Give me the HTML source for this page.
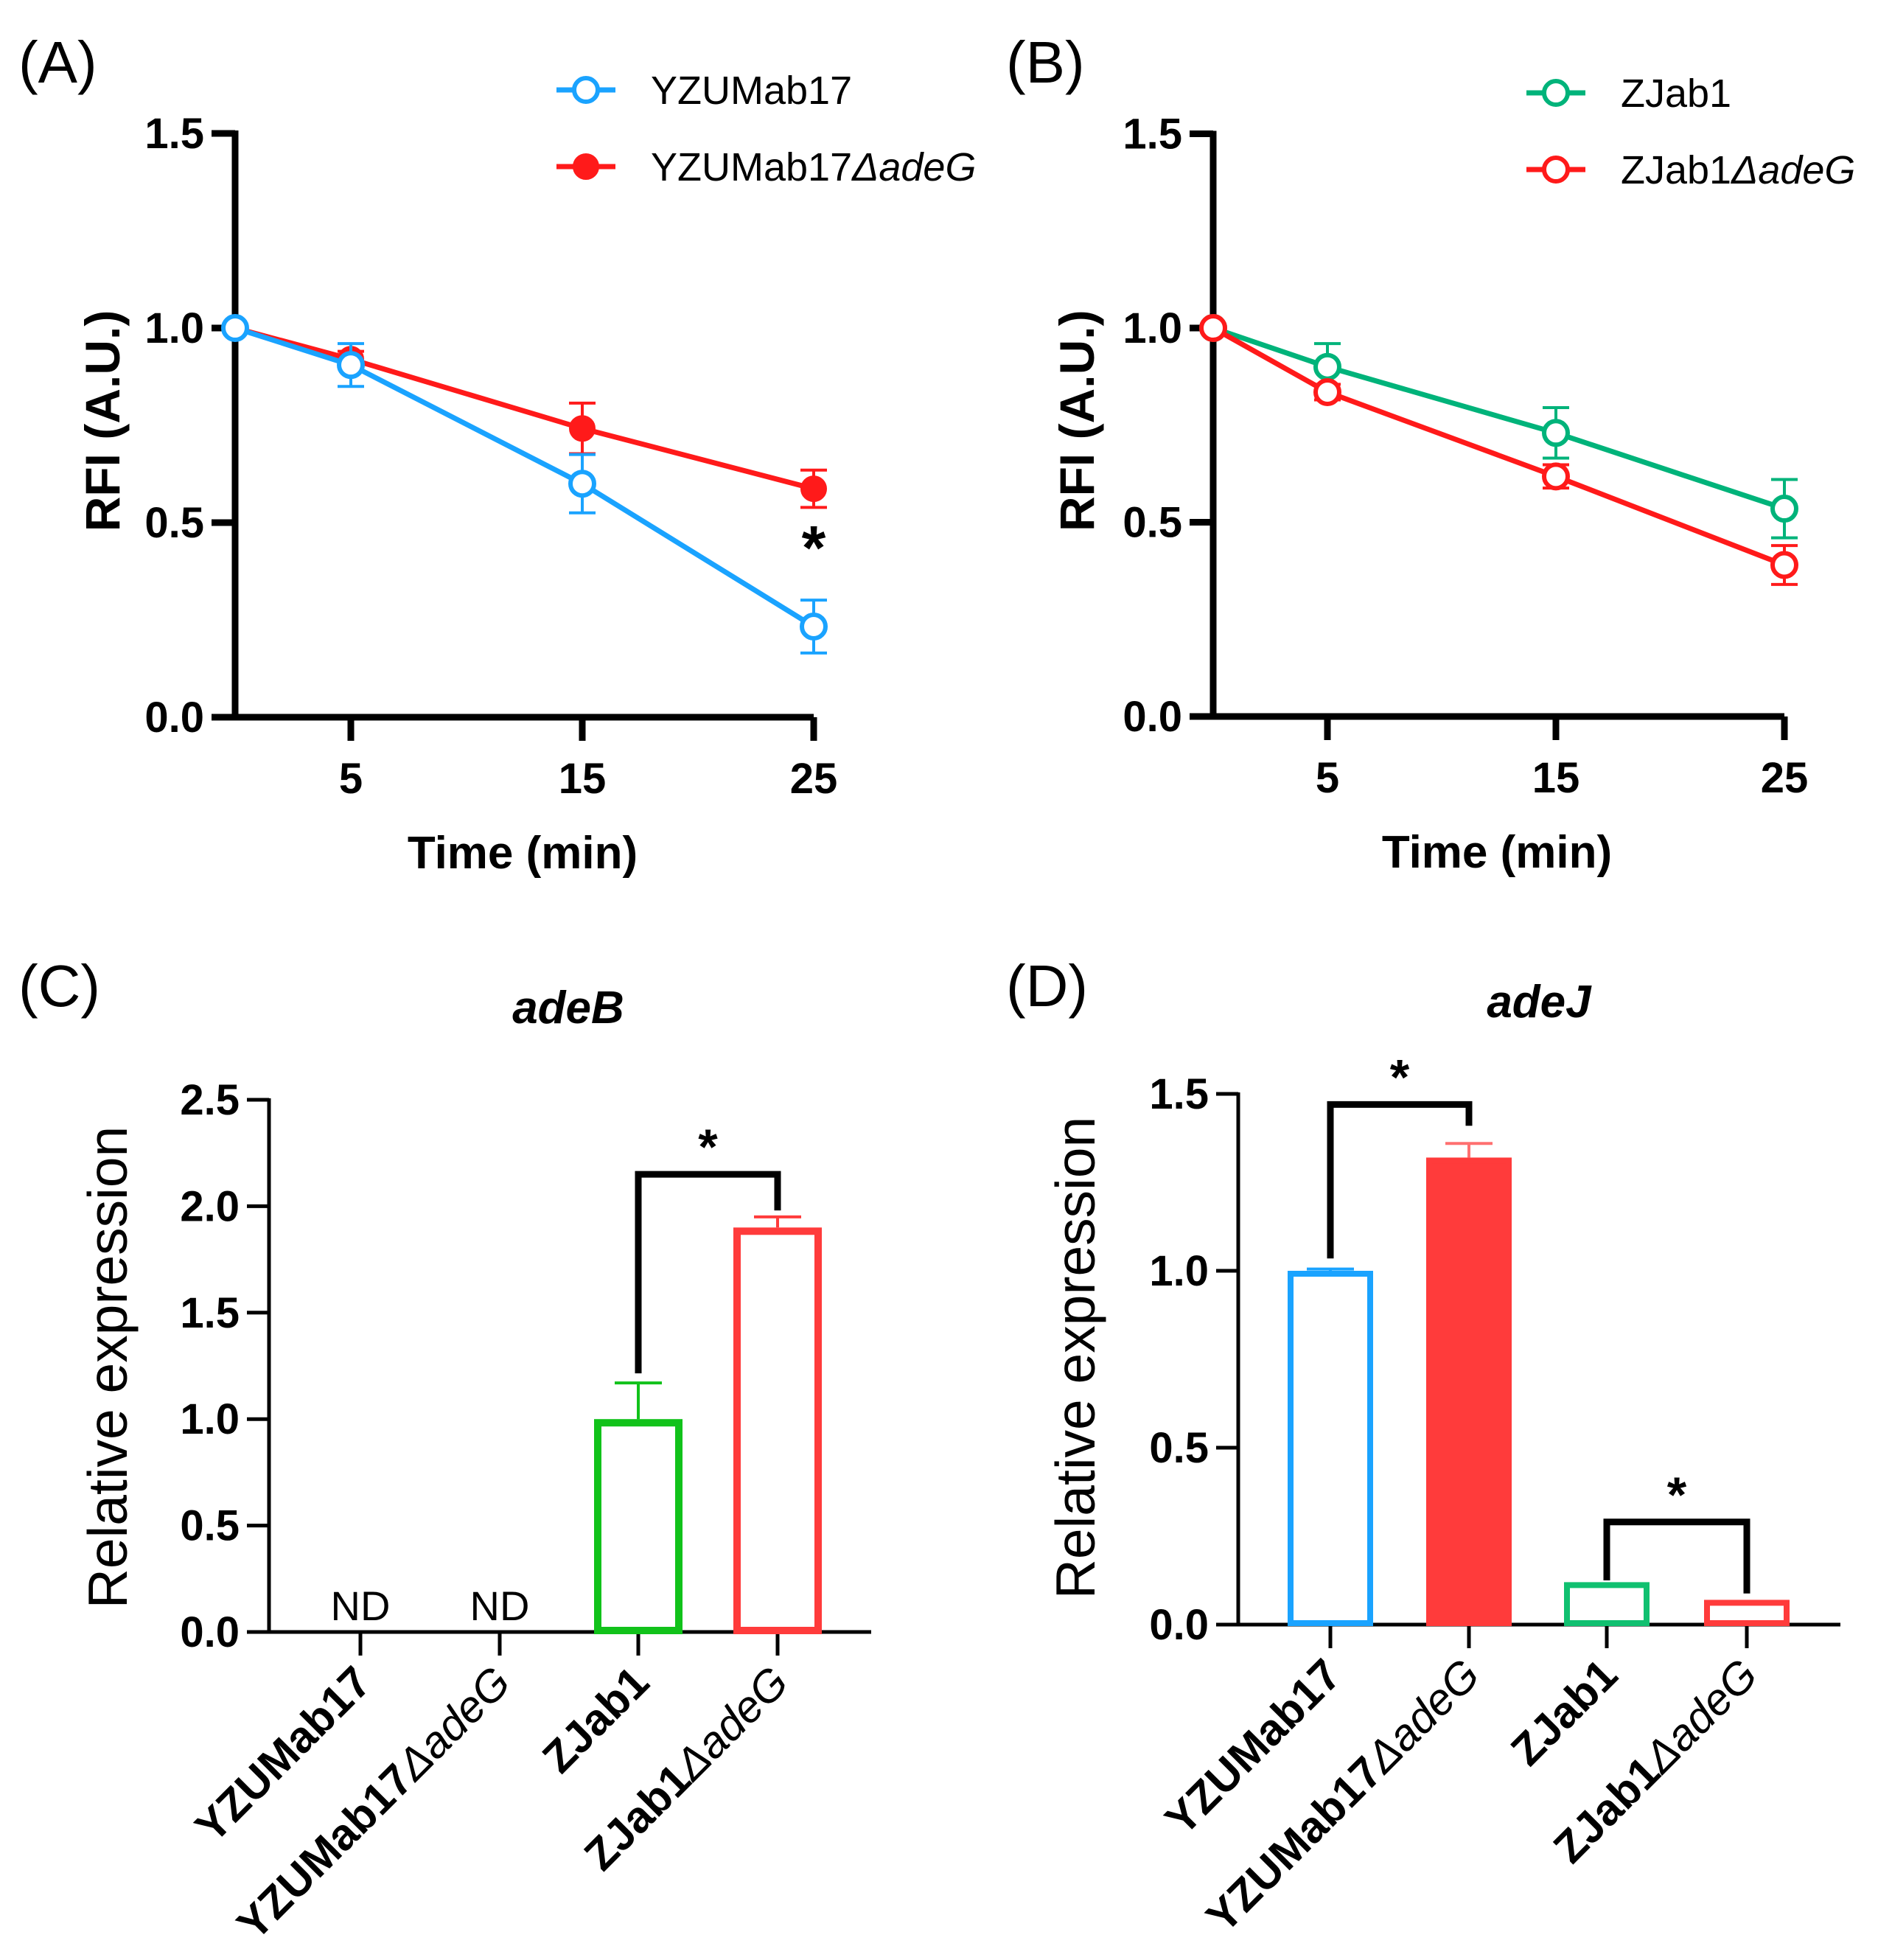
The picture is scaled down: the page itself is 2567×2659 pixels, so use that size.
<!DOCTYPE html>
<html><head><meta charset="utf-8"><style>
html,body{margin:0;padding:0;background:#fff}
svg{display:block;font-family:"Liberation Sans",Arial,sans-serif}
</style></head><body>
<svg id="fig" width="2567" height="2659" viewBox="0 0 2567 2659" xmlns="http://www.w3.org/2000/svg"></svg>
<script>
// ---------- data ----------
const timesA = [0, 5, 15, 25];
const xTicksLine = [5, 15, 25];
const yTicksLine = [0.0, 0.5, 1.0, 1.5];
const blueA = [1.0, 0.905, 0.60, 0.233];
const blueAErr = [0, 0.055, 0.075, 0.068];
const redA = [1.0, 0.92, 0.742, 0.587];
const redAErr = [0, 0.02, 0.065, 0.048];
const greenB = [1.0, 0.90, 0.73, 0.535];
const greenBErr = [0, 0.06, 0.065, 0.075];
const redB = [1.0, 0.835, 0.618, 0.39];
const redBErr = [0, 0.02, 0.03, 0.05];
const barCats = ["YZUMab17", "YZUMab17", "ZJab1", "ZJab1"];
const barSuffix = ["", "\u0394adeG", "", "\u0394adeG"];
const adeBVals = [0, 0, 1.0, 1.9];
const adeBErr = [0, 0, 0.17, 0.05];
const adeBTicks = [0.0, 0.5, 1.0, 1.5, 2.0, 2.5];
const adeJVals = [1.0, 1.32, 0.12, 0.07];
const adeJErr = [0.005, 0.04, 0.003, 0.003];
const adeJTicks = [0.0, 0.5, 1.0, 1.5];

const NS = "http://www.w3.org/2000/svg";
const svg = document.getElementById("fig");
function mk(tag, attrs, parent, text) {
  const e = document.createElementNS(NS, tag);
  for (const k in attrs) e.setAttribute(k, attrs[k]);
  if (text !== undefined) e.textContent = text;
  (parent || svg).appendChild(e);
  return e;
}
const BLUE = "#1aa3ff", RED = "#ff1a1a", GREEN = "#00b37a", BARRED = "#ff3b3b", BARGREEN = "#11c21a", DGREEN = "#10c070";

function linePanel(cfg) {
  const g = mk("g", {});
  
  
  const X = t => cfg.x0 + t * cfg.xs;
  const Y = v => cfg.y0 - v * cfg.ys;
  const ax = mk("path", {d: `M${cfg.x0} ${Y(1.5)-4} V${cfg.y0} H${X(25)}`, fill: "none", stroke: "#000", "stroke-width": 9}, g);
  
  
  yTicksLine.forEach(v => {
    const t = mk("line", {x1: cfg.x0 - 32, x2: cfg.x0, y1: Y(v), y2: Y(v), stroke: "#000", "stroke-width": 9}, g);
    
    
    const l = mk("text", {x: cfg.x0 - 42, y: Y(v) + 20, "text-anchor": "end", "font-size": 58, "font-weight": "bold"}, g, v.toFixed(1));
    
    
  });
  xTicksLine.forEach(v => {
    const t = mk("line", {x1: X(v), x2: X(v), y1: cfg.y0, y2: cfg.y0 + 32, stroke: "#000", "stroke-width": 9}, g);
    
    
    const l = mk("text", {x: X(v), y: cfg.y0 + 103, "text-anchor": "middle", "font-size": 58, "font-weight": "bold"}, g, String(v));
    
    
  });
  const xt = mk("text", {x: cfg.xTitleX, y: cfg.y0 + 205, "text-anchor": "middle", "font-size": 62, "font-weight": "bold"}, g, "Time (min)");
  
  
  const yt = mk("text", {x: 0, y: 0, "text-anchor": "middle", "font-size": 66, "font-weight": "bold", transform: `translate(${cfg.yTitleX},${(Y(1.5)+cfg.y0)/2 - 6}) rotate(-90)`}, g, "RFI (A.U.)");
  
  
  const pl = mk("text", {x: cfg.labelX, y: 112, "font-size": 80}, g, cfg.label);
  
  
  cfg.series.forEach(s => {
    const sg = mk("g", {}, g);
    
    
    s.vals.forEach((v, i) => {
      if (!s.err[i]) return;
      const x = X(timesA[i]);
      const e = mk("path", {d: `M${x} ${Y(v+s.err[i])} V${Y(v-s.err[i])} M${x-18} ${Y(v+s.err[i])} H${x+18} M${x-18} ${Y(v-s.err[i])} H${x+18}`, stroke: s.color, "stroke-width": 4, fill: "none"}, sg);
      
      
    });
    const pts = s.vals.map((v, i) => `${X(timesA[i])},${Y(v)}`).join(" ");
    const pline = mk("polyline", {points: pts, fill: "none", stroke: s.color, "stroke-width": 7}, sg);
    
    
    s.vals.forEach((v, i) => {
      const c = mk("circle", {cx: X(timesA[i]), cy: Y(v), r: s.filled ? 17 : 16, fill: s.filled ? s.color : "#fff", stroke: s.color, "stroke-width": s.filled ? 2 : 6}, sg);
      
      
    });
    const lg = mk("g", {}, g);
    
    
    mk("line", {x1: s.lx, x2: s.lx + 80, y1: s.ly, y2: s.ly, stroke: s.color, "stroke-width": 7}, lg);
    mk("circle", {cx: s.lx + 40, cy: s.ly, r: s.filled ? 17 : 16, fill: s.filled ? s.color : "#fff", stroke: s.color, "stroke-width": s.filled ? 2 : 6}, lg);
    const tx = mk("text", {x: s.lx + 128, y: s.ly + 19, "font-size": 54}, lg);
    mk("tspan", {}, tx, s.base);
    if (s.suf) mk("tspan", {"font-style": "italic"}, tx, "\u0394adeG");
  });
  return {g, X, Y};
}

const pA = linePanel({name: "panel-a-line-chart", x0: 319, y0: 973, xs: 31.4, ys: 528, label: "(A)", labelX: 25, xTitleX: 709, yTitleX: 162,
  series: [
    {name: "series-yzumab17-delta-adeg", vals: redA, err: redAErr, color: RED, filled: true, lx: 755, ly: 226, base: "YZUMab17", suf: true},
    {name: "series-yzumab17", vals: blueA, err: blueAErr, color: BLUE, filled: false, lx: 755, ly: 122, base: "YZUMab17", suf: false}
  ]});
const ast = mk("text", {x: pA.X(25), y: 772, "text-anchor": "middle", "font-size": 84, "font-weight": "bold"}, pA.g, "*");



linePanel({name: "panel-b-line-chart", x0: 1646, y0: 972, xs: 31, ys: 527, label: "(B)", labelX: 1365, xTitleX: 2031, yTitleX: 1484,
  series: [
    {name: "series-zjab1", vals: greenB, err: greenBErr, color: GREEN, filled: false, lx: 2071, ly: 126, base: "ZJab1", suf: false},
    {name: "series-zjab1-delta-adeg", vals: redB, err: redBErr, color: RED, filled: false, lx: 2071, ly: 230, base: "ZJab1", suf: true}
  ]});

function barPanel(cfg) {
  const g = mk("g", {});
  
  
  const Y = v => cfg.y0 - v * cfg.ys;
  const top = cfg.ticks[cfg.ticks.length - 1];
  const ax = mk("path", {d: `M${cfg.x0} ${Y(top)-2} V${cfg.y0} H${cfg.xEnd}`, fill: "none", stroke: "#000", "stroke-width": 5}, g);
  
  
  cfg.ticks.forEach(v => {
    const t = mk("line", {x1: cfg.x0 - 30, x2: cfg.x0, y1: Y(v), y2: Y(v), stroke: "#000", "stroke-width": 5}, g);
    
    
    const l = mk("text", {x: cfg.x0 - 40, y: Y(v) + 20, "text-anchor": "end", "font-size": 58, "font-weight": "bold"}, g, v.toFixed(1));
    
    
  });
  const yt = mk("text", {x: 0, y: 0, "text-anchor": "middle", "font-size": 75, transform: `translate(${cfg.yTitleX},${cfg.yTitleY}) rotate(-90)`}, g, "Relative expression");
  
  
  const tt = mk("text", {x: cfg.titleX, y: cfg.titleY, "text-anchor": "middle", "font-size": 62, "font-weight": "bold", "font-style": "italic"}, g, cfg.title);
  
  
  const pl = mk("text", {x: cfg.labelX, y: 1365, "font-size": 80}, g, cfg.label);
  
  
  cfg.vals.forEach((v, i) => {
    const cx = cfg.centers[i], w = cfg.bw;
    const t = mk("line", {x1: cx, x2: cx, y1: cfg.y0, y2: cfg.y0 + 32, stroke: "#000", "stroke-width": 5}, g);
    
    
    if (v > 0) {
      const sw = cfg.sw;
      if (cfg.errs[i] > 0.004) {
        const e = mk("path", {d: `M${cx} ${Y(v)} V${Y(v+cfg.errs[i])} M${cx-32} ${Y(v+cfg.errs[i])} H${cx+32}`, stroke: cfg.errColors[i], "stroke-width": 4, fill: "none"}, g);
        
        
      }
      const r = mk("rect", {x: cx - w/2 + sw/2, y: Y(v) + sw/2, width: w - sw, height: cfg.y0 - Y(v) - sw/2 - 2, fill: cfg.fills[i], stroke: cfg.colors[i], "stroke-width": sw}, g);
      
      
    } else {
      const nd = mk("text", {x: cx, y: cfg.y0 - 16, "text-anchor": "middle", "font-size": 56}, g, "ND");
      
      
    }
    const lab = mk("text", {x: 0, y: 0, "text-anchor": "end", "font-size": 60, "font-weight": "bold", transform: `translate(${cx + 18},${cfg.y0 + 72}) rotate(-45)`}, g);
    
    
    mk("tspan", {}, lab, barCats[i]);
    if (barSuffix[i]) mk("tspan", {"font-weight": "normal", "font-style": "italic"}, lab, barSuffix[i]);
  });
  cfg.brackets.forEach(b => {
    const x1 = cfg.centers[b.a], x2 = cfg.centers[b.b];
    const p = mk("path", {d: `M${x1} ${Y(b.l)} V${Y(b.top)} H${x2} V${Y(b.r)}`, fill: "none", stroke: "#000", "stroke-width": 9}, g);
    
    
    const s = mk("text", {x: (x1+x2)/2, y: Y(b.top) - 14, "text-anchor": "middle", "font-size": 68, "font-weight": "bold"}, g, "*");
    
    
  });
}

barPanel({name: "panel-c-adeb-bar-chart", x0: 365, y0: 2214, ys: 288.8, xEnd: 1182, ticks: adeBTicks, vals: adeBVals, errs: adeBErr,
  centers: [489, 678, 866, 1055], bw: 120, sw: 10, title: "adeB", titleX: 771, titleY: 1388, label: "(C)", labelX: 25,
  yTitleX: 172, yTitleY: 1855,
  colors: [BLUE, BARRED, BARGREEN, BARRED], fills: ["#fff", "#fff", "#fff", "#fff"], errColors: [BLUE, BARRED, BARGREEN, BARRED],
  brackets: [{a: 2, b: 3, top: 2.15, l: 1.215, r: 1.98}]});

barPanel({name: "panel-d-adej-bar-chart", x0: 1680, y0: 2204, ys: 480, xEnd: 2497, ticks: adeJTicks, vals: adeJVals, errs: adeJErr,
  centers: [1805, 1993, 2180, 2370], bw: 116, sw: 8, title: "adeJ", titleX: 2088, titleY: 1380, label: "(D)", labelX: 1365,
  yTitleX: 1485, yTitleY: 1842,
  colors: [BLUE, BARRED, DGREEN, BARRED], fills: ["#fff", BARRED, "#fff", "#fff"], errColors: [BLUE, "#ff7070", DGREEN, BARRED],
  brackets: [{a: 0, b: 1, top: 1.47, l: 1.035, r: 1.41}, {a: 2, b: 3, top: 0.29, l: 0.125, r: 0.088}]});
</script>
</body></html>
